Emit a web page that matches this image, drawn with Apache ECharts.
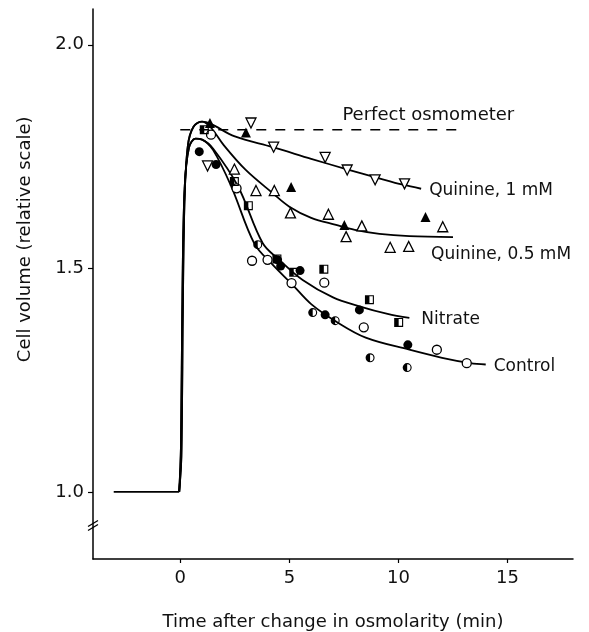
<!DOCTYPE html>
<html><head><meta charset="utf-8">
<script src="https://cdn.jsdelivr.net/npm/echarts@6/dist/echarts.min.js"></script>
<style>html,body{margin:0;padding:0;background:#fff}#c{width:589px;height:632px}</style>
</head><body><div id="c"></div>
<script>
// ---- data (time in min, relative cell volume) ----
const baselineT = [-3.05, -0.05];
const baselineV = [1.0, 1.0];

const perfectT = [0.0, 12.7];
const perfectV = [1.81, 1.81];

const quinine1CurveT = [-0.05, 0.05, 0.12, 0.2, 0.35, 0.6, 1.0, 1.4, 2.5, 4.24, 6.0, 7.6, 9.0, 10.2, 11.04];
const quinine1CurveV = [1.0, 1.08, 1.42, 1.66, 1.775, 1.816, 1.828, 1.823, 1.795, 1.771, 1.745, 1.722, 1.703, 1.687, 1.678];

const quinine05CurveT = [-0.05, 0.05, 0.12, 0.2, 0.35, 0.6, 1.0, 1.4, 2.0, 3.0, 4.24, 5.0, 6.0, 7.14, 8.0, 9.13, 10.5, 12.5];
const quinine05CurveV = [1.0, 1.08, 1.42, 1.66, 1.775, 1.816, 1.828, 1.815, 1.775, 1.72, 1.668, 1.638, 1.613, 1.597, 1.586, 1.577, 1.572, 1.57];

const controlCurveT = [-0.05, 0.03, 0.1, 0.2, 0.4, 0.7, 1.0, 1.5, 2.34, 3.39, 4.2, 5.15, 6.0, 7.14, 8.5, 10.5, 12.0, 13.3, 14.0];
const controlCurveV = [1.0, 1.1, 1.45, 1.68, 1.77, 1.79, 1.788, 1.765, 1.683, 1.556, 1.51, 1.463, 1.42, 1.381, 1.345, 1.318, 1.3, 1.288, 1.285];

const nitrateCurveT = [-0.05, 0.03, 0.1, 0.2, 0.4, 0.7, 1.0, 1.5, 2.65, 3.78, 4.54, 5.61, 7.0, 8.21, 9.5, 10.5];
const nitrateCurveV = [1.0, 1.1, 1.45, 1.68, 1.77, 1.79, 1.788, 1.768, 1.683, 1.556, 1.519, 1.474, 1.435, 1.415, 1.398, 1.389];

const openCircleT = [1.41, 2.58, 3.29, 4.0, 5.1, 6.6, 8.41, 11.76, 13.13];
const openCircleV = [1.799, 1.679, 1.517, 1.519, 1.467, 1.468, 1.368, 1.318, 1.288];

const filledCircleT = [0.87, 1.64, 4.46, 4.6, 5.49, 6.64, 8.21, 10.43];
const filledCircleV = [1.761, 1.732, 1.519, 1.505, 1.495, 1.396, 1.407, 1.329];

const halfCircleT = [3.55, 6.07, 7.1, 8.7, 10.4];
const halfCircleV = [1.553, 1.401, 1.383, 1.300, 1.278];

const halfSquareT = [1.1, 2.48, 3.12, 4.43, 5.2, 6.58, 8.67, 10.01];
const halfSquareV = [1.81, 1.694, 1.64, 1.521, 1.491, 1.498, 1.43, 1.379];

const downTriT = [1.25, 3.24, 4.28, 6.64, 7.65, 8.93, 10.28];
const downTriV = [1.729, 1.825, 1.771, 1.748, 1.720, 1.698, 1.689];

const filledTriT = [1.36, 3.01, 5.08, 7.52, 11.24];
const filledTriV = [1.825, 1.804, 1.682, 1.597, 1.615];

const upTriT = [2.48, 3.47, 4.31, 5.05, 6.79, 8.32, 7.6, 9.62, 10.47, 12.03];
const upTriV = [1.722, 1.674, 1.674, 1.624, 1.621, 1.595, 1.571, 1.547, 1.549, 1.593];

const xTicks = [0, 5, 10, 15];
const yTicks = [1.0, 1.5, 2.0];

const xTitle = 'Time after change in osmolarity (min)';
const yTitle = 'Cell volume (relative scale)';
const perfectLabel = 'Perfect osmometer';

// ---- build ----
const zip = (a, b) => a.map((v, i) => [v, b[i]]);
const FONT = 'DejaVu Sans';
const halfCirclePath = 'path://M10,0 A10,10 0 1,1 10,20 A10,10 0 1,1 10,0 Z M10,2.5 A7.5,7.5 0 1,0 10,17.5 A7.5,7.5 0 1,0 10,2.5 Z M10,2.5 A7.5,7.5 0 0,0 10,17.5 Z';
const halfSquarePath = 'path://M0,0 H20 V20 H0 Z M2.5,2.5 V17.5 H17.5 V2.5 Z M2.5,2.5 V17.5 H10 V2.5 Z';

function curve(name, t, v, label, offset, dist) {
  return {
    type: 'line', name, data: zip(t, v), smooth: 0.35, showSymbol: false, symbol: 'none',
    lineStyle: { color: '#000', width: 1.8 }, z: 2, silent: true,
    endLabel: label ? { show: true, formatter: label, color: '#111', fontFamily: FONT, fontSize: 17, distance: dist || 8, offset: offset || [0, 0] } : { show: false }
  };
}
function scatter(name, t, v, symbol, fill, rotate, size) {
  return {
    type: 'scatter', name, data: zip(t, v), symbol, symbolSize: size || 9, symbolRotate: rotate || 0, z: 5,
    itemStyle: { color: fill, borderColor: '#000', borderWidth: fill === '#fff' ? 1.3 : 0, opacity: 1 }
  };
}

const chart = echarts.init(document.getElementById('c'), null, { renderer: 'canvas' });
const option = {
  animation: false,
  backgroundColor: '#fff',
  grid: { left: 93, right: 16, top: 9, bottom: 73, containLabel: false, outerBoundsMode: 'none' },
  xAxis: {
    type: 'value', min: -4, max: 18,
    axisLine: { show: true, onZero: false, lineStyle: { color: '#000', width: 1.5 } },
    axisTick: { show: true, customValues: xTicks, length: 4, lineStyle: { color: '#000', width: 1.2 } },
    axisLabel: { show: true, customValues: xTicks, color: '#111', fontFamily: FONT, fontSize: 18, margin: 10 },
    splitLine: { show: false },
    name: xTitle, nameLocation: 'middle', nameGap: 63,
    nameTextStyle: { color: '#111', fontFamily: FONT, fontSize: 18, verticalAlign: 'middle' }
  },
  yAxis: {
    type: 'value', min: 0.85, max: 2.08,
    axisLine: { show: true, onZero: false, lineStyle: { color: '#000', width: 1.5 } },
    axisTick: { show: true, customValues: yTicks, length: 5, lineStyle: { color: '#000', width: 1.2 } },
    axisLabel: { show: true, customValues: yTicks, color: '#111', fontFamily: FONT, fontSize: 18, margin: 9,
      formatter: v => v.toFixed(1) },
    splitLine: { show: false }
  },
  series: [
    { type: 'line', name: 'baseline', data: zip(baselineT, baselineV), symbol: 'none', lineStyle: { color: '#000', width: 1.8 }, silent: true },
    { type: 'line', name: 'perfect', data: zip(perfectT, perfectV), symbol: 'none', lineStyle: { color: '#000', width: 1.3, type: [10, 9] }, silent: true },
    curve('Quinine 1 mM', quinine1CurveT, quinine1CurveV, 'Quinine, 1 mM', [0, 2]),
    curve('Quinine 0.5 mM', quinine05CurveT, quinine05CurveV, 'Quinine, 0.5 mM', [-30, 18]),
    curve('Nitrate', nitrateCurveT, nitrateCurveV, 'Nitrate', [0, 2], 12),
    curve('Control', controlCurveT, controlCurveV, 'Control', [0, 2]),
    scatter('open circle', openCircleT, openCircleV, 'circle', '#fff'),
    scatter('filled circle', filledCircleT, filledCircleV, 'circle', '#000'),
    scatter('half circle', halfCircleT, halfCircleV, halfCirclePath, '#000'),
    scatter('half square', halfSquareT, halfSquareV, halfSquarePath, '#000'),
    scatter('down triangle', downTriT, downTriV, 'triangle', '#fff', 180, 10),
    scatter('filled triangle', filledTriT, filledTriV, 'triangle', '#000', 0, 10),
    scatter('up triangle', upTriT, upTriV, 'triangle', '#fff', 0, 10)
  ]
};
chart.setOption(option);

// decorations placed through the chart's own coordinate conversion
const pLab = chart.convertToPixel({ gridIndex: 0 }, [7.43, 1.843]);
const brk = chart.convertToPixel({ gridIndex: 0 }, [-4, 0.925]);
const yMid = chart.convertToPixel({ gridIndex: 0 }, [-4, 1.565]);
chart.setOption({
  graphic: [
    { type: 'text', x: pLab[0], y: pLab[1], style: { text: perfectLabel, fill: '#111', font: '18px "DejaVu Sans"', textAlign: 'left', textVerticalAlign: 'middle' } },
    { type: 'text', x: yMid[0] - 68, y: yMid[1], rotation: Math.PI / 2, style: { text: yTitle, fill: '#111', font: '18px "DejaVu Sans"', textAlign: 'center', textVerticalAlign: 'middle' } },
    { type: 'line', shape: { x1: brk[0] - 5, y1: brk[1] + 1, x2: brk[0] + 5, y2: brk[1] - 5 }, style: { stroke: '#000', lineWidth: 1.3 } },
    { type: 'line', shape: { x1: brk[0] - 5, y1: brk[1] + 5, x2: brk[0] + 5, y2: brk[1] - 1 }, style: { stroke: '#000', lineWidth: 1.3 } }
  ]
});
</script></body></html>
